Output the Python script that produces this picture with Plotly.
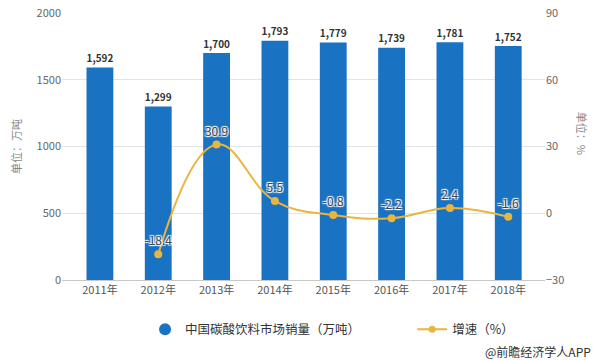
import plotly.graph_objects as go

years = ["2011年", "2012年", "2013年", "2014年", "2015年", "2016年", "2017年", "2018年"]
sales = [1592, 1299, 1700, 1793, 1779, 1739, 1781, 1752]
growth = [None, -18.4, 30.9, 5.5, -0.8, -2.2, 2.4, -1.6]
growth_labels = ["", "-18.4", "30.9", "5.5", "-0.8", "-2.2", "2.4", "-1.6"]

BAR = "#1A73C2"
LINE = "#E9B53D"
FONT = "Noto Sans CJK SC"

fig = go.Figure()
fig.add_trace(go.Bar(
    x=years, y=sales, width=0.46, marker=dict(color=BAR, line=dict(width=0)),
    texttemplate="<b>%{y:,}</b>", textposition="outside",
    textfont=dict(size=12, color="#333333", family=FONT),
    cliponaxis=False, showlegend=False, name="中国碳酸饮料市场销量（万吨）",
))
fig.add_trace(go.Scatter(
    x=years, y=growth, yaxis="y2", mode="lines+markers+text",
    line=dict(color=LINE, width=2, shape="spline", smoothing=1.2),
    marker=dict(color=LINE, size=8),
    text=growth_labels, textposition="top center",
    textfont=dict(size=12, color="#444444", family=FONT,
                  shadow="1px 1px 1px white, -1px -1px 1px white, 1px -1px 1px white, -1px 1px 1px white"),
    cliponaxis=False, showlegend=False, name="增速（%）",
))
# legend entries
fig.add_trace(go.Scatter(x=[None], y=[None], mode="markers", legend="legend",
                         marker=dict(color=BAR, size=12), name="中国碳酸饮料市场销量（万吨）"))
fig.add_trace(go.Scatter(x=[None], y=[None], mode="lines+markers", legend="legend2",
                         line=dict(color=LINE, width=2), marker=dict(color=LINE, size=7),
                         name="增速（%）"))

legend_common = dict(orientation="h", y=-0.13, yanchor="top", xanchor="left",
                     font=dict(size=12.5, color="#333333"), itemwidth=30,
                     bgcolor="rgba(0,0,0,0)")

fig.update_layout(
    width=600, height=360,
    margin=dict(l=62, r=55, t=13, b=80, autoexpand=False),
    paper_bgcolor="white", plot_bgcolor="white",
    font=dict(family=FONT, size=11, color="#666666"),
    xaxis=dict(range=[-0.65, 7.63], showline=True, linecolor="#c8c8c8", ticks="",
               tickfont=dict(size=11, color="#555555"), showgrid=False),
    yaxis=dict(range=[0, 2000], tickvals=[0, 500, 1000, 1500, 2000], showgrid=True,
               gridcolor="#e3e3e3", zeroline=False, tickfont=dict(size=11, color="#666666"),
               title=dict(text="单位：万吨", font=dict(size=11, color="#888888"), standoff=12)),
    yaxis2=dict(range=[-30, 90], tickvals=[-30, 0, 30, 60, 90], overlaying="y", side="right",
                showgrid=False, zeroline=False, tickfont=dict(size=11, color="#666666")),
    legend=dict(x=0.172, **legend_common),
    legend2=dict(x=0.725, **legend_common),
    annotations=[
        dict(text="单位：%", textangle=90, xref="paper", yref="paper", x=1.098, y=0.55,
             showarrow=False, font=dict(size=11, color="#888888")),
        dict(text="@前瞻经济学人APP", xref="paper", yref="paper", x=1.1, xanchor="right",
             y=-0.228, yanchor="top", showarrow=False, font=dict(size=12, color="#333333")),
    ],
)

fig.write_html("out.html", config={"displayModeBar": False},
               post_script="document.body.style.margin='0';")
